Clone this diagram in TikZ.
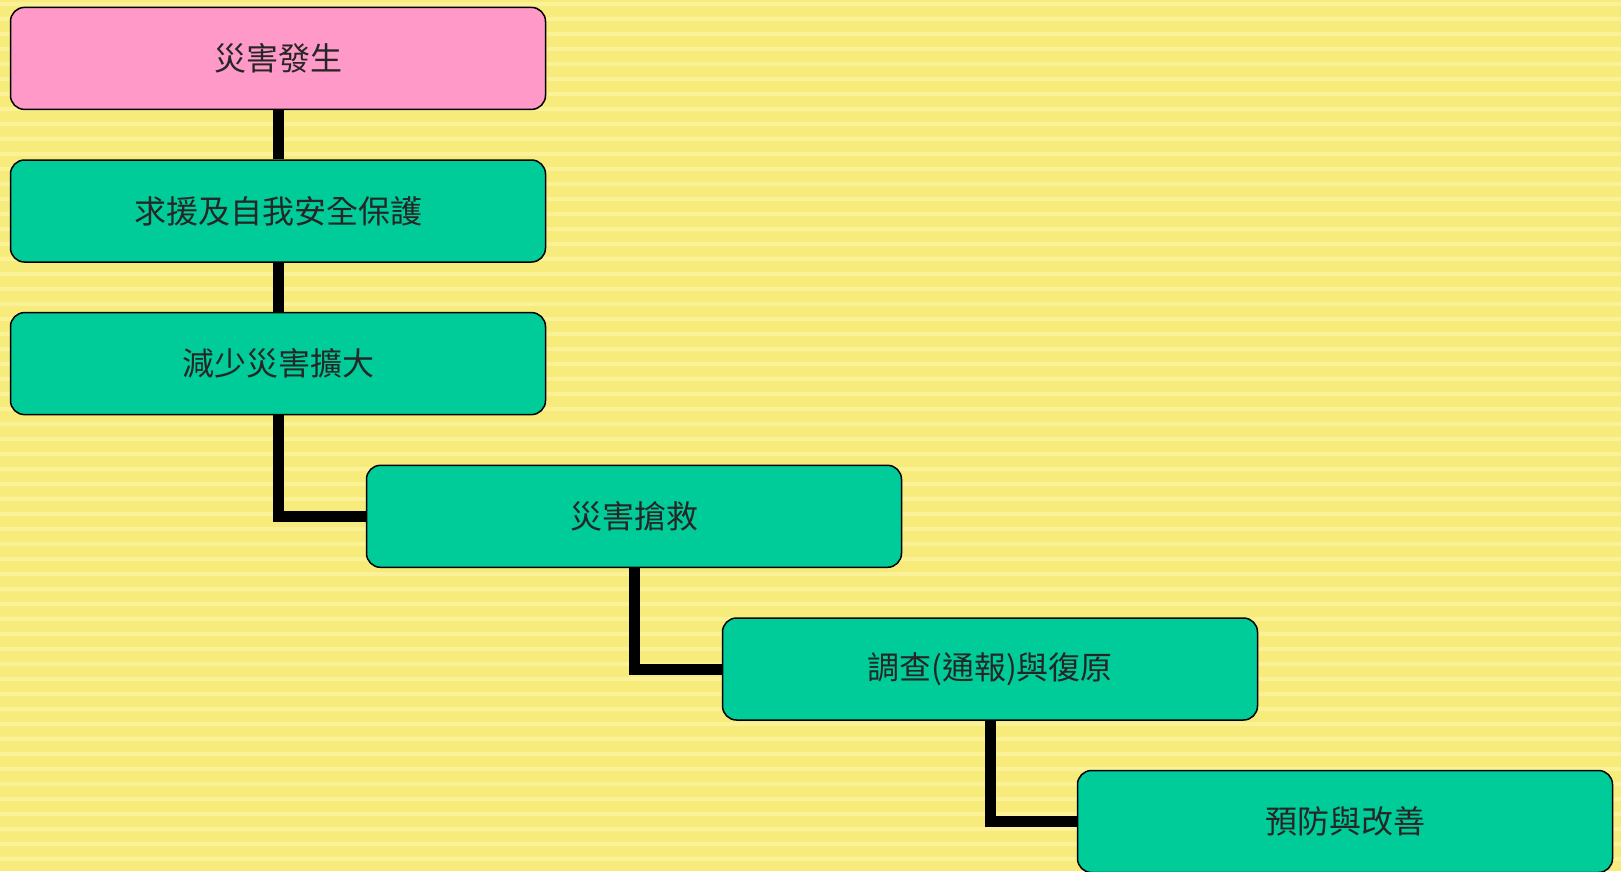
\documentclass[tikz,border=0pt]{standalone}
\usepackage{fontspec}
\newfontfamily\cjk{Noto Sans CJK TC}
\definecolor{bgyellow}{RGB}{247,235,124}
\definecolor{bglight}{RGB}{251,242,152}
\definecolor{boxpink}{RGB}{255,153,200}
\definecolor{boxgreen}{RGB}{0,204,153}
\tikzset{
  stagebox/.style={draw=black, line width=1.5pt, rounded corners=14pt,
    minimum width=535pt, minimum height=102pt, inner sep=0pt,
    font=\cjk\fontsize{32pt}{36pt}\selectfont, text=black!85},
  greenbox/.style={stagebox, fill=boxgreen},
  pinkbox/.style={stagebox, fill=boxpink},
  link/.style={draw=black, line width=11pt, line join=miter}
}
\begin{document}
\begin{tikzpicture}[x=1pt,y=-1pt]
\useasboundingbox (0,0) rectangle (1621,871);
\fill[bgyellow] (0,0) rectangle (1621,871);
\foreach \k in {0,...,58} {
  \fill[bglight] (0,{\k*15+2}) rectangle (1621,{\k*15+6});
}
\node[pinkbox]  (b1) at (278,58.4)  {災害發生};
\node[greenbox] (b2) at (278,211)   {求援及自我安全保護};
\node[greenbox] (b3) at (278,363.6) {減少災害擴大};
\node[greenbox] (b4) at (634,516.3) {災害搶救};
\node[greenbox] (b5) at (990,669)   {調查(通報)與復原};
\node[greenbox] (b6) at (1345,821.5) {預防與改善};
\draw[link] (b1.south) -- (b2.north);
\draw[link] (b2.south) -- (b3.north);
\draw[link] (b3.south) |- (b4.west);
\draw[link] (b4.south) |- (b5.west);
\draw[link] (b5.south) |- (b6.west);
\end{tikzpicture}
\end{document}
